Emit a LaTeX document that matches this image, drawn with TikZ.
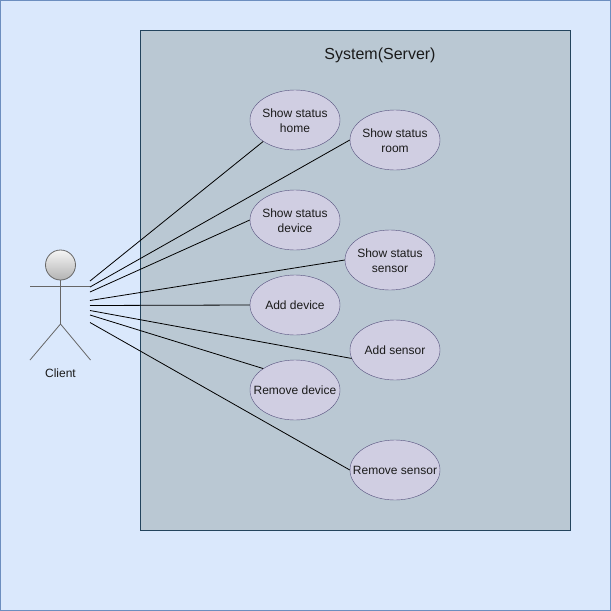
\documentclass[tikz,border=0pt]{standalone}
\usepackage{fontspec}
\usetikzlibrary{shapes.geometric}
\setmainfont{Liberation Sans}
\definecolor{pagefill}{HTML}{DAE8FC}
\definecolor{pageline}{HTML}{6C8EBF}
\definecolor{sysfill}{HTML}{BAC8D3}
\definecolor{sysline}{HTML}{23445D}
\definecolor{casefill}{HTML}{D0CEE2}
\definecolor{caseline}{HTML}{56517E}
\definecolor{actorline}{HTML}{666666}
\definecolor{headtop}{HTML}{F5F5F5}
\definecolor{headbot}{HTML}{B3B3B3}
\definecolor{inktext}{HTML}{1A1A1A}
\begin{document}
\begin{tikzpicture}[x=1pt, y=-1pt,
	usecase/.style = {shape=ellipse, draw=caseline, fill=casefill, text=inktext, align=center,
		minimum width=90pt, minimum height=60pt, inner xsep=-25pt, inner ysep=-12pt, font=\fontsize{12}{15}\selectfont},
	twoline/.style = {usecase, text height=24.7pt},
	link/.style = {draw=black, line width=0.8pt},
	limb/.style = {draw=actorline, line width=0.8pt}]
	\useasboundingbox (0,0) rectangle (611,611);
	\node[draw=pageline, fill=pagefill, line width=1pt, minimum width=610pt, minimum height=610pt, inner sep=0pt] (page) at (305.5,305.5) {};
	\node[draw=sysline, fill=sysfill, line width=0.8pt, minimum width=430pt, minimum height=500pt, inner sep=0pt] (system) at (355,280) {};
	\node[text=inktext, font=\fontsize{16}{19}\selectfont] (title) at (380,55.5) {System(Server)};
	% use cases
	\node[twoline] (home) at (295,120) {Show status\\home};
	\node[twoline] (room) at (395,140) {Show status\\room};
	\node[twoline] (device) at (295,220) {Show status\\device};
	\node[twoline] (sensor) at (390,260) {Show status\\sensor};
	\node[usecase] (adddevice) at (295,305) {Add device};
	\node[usecase] (addsensor) at (395,350) {Add sensor};
	\node[usecase] (removedevice) at (295,390) {Remove device};
	\node[usecase] (removesensor) at (395,470) {Remove sensor};
	% actor
	\node[shape=circle, draw=actorline, line width=0.8pt, top color=headtop, bottom color=headbot, minimum size=30pt, inner sep=0pt] (head) at (60.5,265) {};
	\coordinate (armL) at (30,286.5);
	\coordinate (armR) at (90,286.5);
	\coordinate (hip) at (60.5,324);
	\coordinate (footL) at (30,360);
	\coordinate (footR) at (90.5,360);
	\draw[limb] (head.south) -- (hip);
	\draw[limb] (armL) -- (armR);
	\draw[limb] (footL) -- (hip) -- (footR);
	\node[text=inktext, font=\fontsize{12}{15}\selectfont] (client) at (60.5,373) {Client};
	% connectors
	\coordinate (c1) at (90,281);
	\coordinate (c2) at (90,287);
	\coordinate (c3) at (90,292);
	\coordinate (c4) at (90,300.5);
	\coordinate (c5) at (90,305.5);
	\coordinate (c6) at (90,310.5);
	\coordinate (c7) at (90,315);
	\coordinate (c8) at (90,322.5);
	\draw[link] (c1) -- (home.214);
	\draw[link] (c2) -- (room.west);
	\draw[link] (c3) -- (device.west);
	\draw[link] (c4) -- (sensor.west);
	\draw[link] (c5) -- (adddevice.west);
	\draw[link] (c6) -- (addsensor.191);
	\draw[link] (c7) -- (removedevice.146);
	\draw[link] (c8) -- (removesensor.west);
\end{tikzpicture}
\end{document}
